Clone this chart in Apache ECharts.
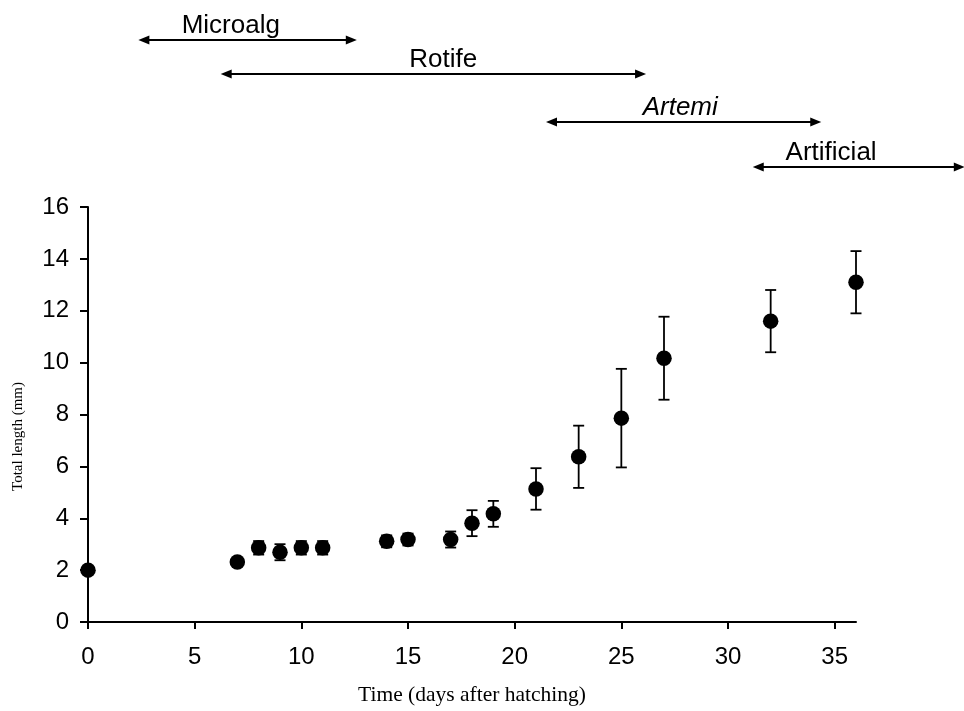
<!DOCTYPE html>
<html>
<head>
<meta charset="utf-8">
<script src="https://cdn.jsdelivr.net/npm/echarts@6/dist/echarts.min.js"></script>
<style>
html,body{margin:0;padding:0;background:#fff;}
#main{width:964px;height:711px;}
</style>
</head>
<body>
<div id="main"></div>
<script>
// growth data: day after hatching, mean total length, +/- error
var days = [0, 7, 8, 9, 10, 11, 14, 15, 17, 18, 19, 21, 23, 25, 27, 32, 36];
var lengthMean = [2.0, 2.31, 2.86, 2.69, 2.86, 2.86, 3.11, 3.18, 3.18, 3.81, 4.17, 5.13, 6.37, 7.86, 10.17, 11.6, 13.1];
var lengthErr = [0.05, 0.08, 0.26, 0.31, 0.26, 0.26, 0.23, 0.23, 0.31, 0.5, 0.5, 0.8, 1.2, 1.9, 1.6, 1.2, 1.2];

// feeding periods (days)
var feedNames = ['Microalg', 'Rotife', 'Artemi', 'Artificial'];
var feedStart = [2.36, 6.22, 21.47, 31.16];
var feedEnd = [12.6, 26.16, 34.37, 41.1];
var feedLabelAt = [4.39, 15.06, 26.0, 32.7];

var yTicks = [0, 2, 4, 6, 8, 10, 12, 14, 16];
var xTicks = [0, 5, 10, 15, 20, 25, 30, 35];

// pixel rows of the feeding arrows above the plot
var feedRowY = [40, 74, 122, 167];

var myChart = echarts.init(document.getElementById('main'));

var points = [];
var bars = [];
for (var i = 0; i < days.length; i++) {
	points.push([days[i], lengthMean[i]]);
	bars.push([days[i], lengthMean[i] - lengthErr[i], lengthMean[i] + lengthErr[i]]);
}
var feeds = [];
for (var j = 0; j < feedNames.length; j++) {
	feeds.push([feedStart[j], feedEnd[j], feedLabelAt[j], j]);
}

function renderBar(params, api) {
	var top = api.coord([api.value(0), api.value(2)]);
	var bot = api.coord([api.value(0), api.value(1)]);
	var w = 5.5;
	var st = {stroke: '#000', lineWidth: 1.8};
	return {
		type: 'group',
		children: [
			{type: 'line', shape: {x1: top[0], y1: top[1], x2: bot[0], y2: bot[1]}, style: st},
			{type: 'line', shape: {x1: top[0] - w, y1: top[1], x2: top[0] + w, y2: top[1]}, style: st},
			{type: 'line', shape: {x1: bot[0] - w, y1: bot[1], x2: bot[0] + w, y2: bot[1]}, style: st}
		]
	};
}

function renderFeed(params, api) {
	var idx = api.value(3);
	var y = feedRowY[idx];
	var x1 = api.coord([api.value(0), 0])[0];
	var x2 = api.coord([api.value(1), 0])[0];
	var xl = api.coord([api.value(2), 0])[0];
	var hl = 11, hh = 4.5;
	return {
		type: 'group',
		children: [
			{type: 'line', shape: {x1: x1 + 4, y1: y, x2: x2 - 4, y2: y}, style: {stroke: '#000', lineWidth: 2}},
			{type: 'polygon', shape: {points: [[x1, y], [x1 + hl, y - hh], [x1 + hl, y + hh]]}, style: {fill: '#000'}},
			{type: 'polygon', shape: {points: [[x2, y], [x2 - hl, y - hh], [x2 - hl, y + hh]]}, style: {fill: '#000'}},
			{type: 'text', style: {
				text: feedNames[idx], x: xl, y: y - 1,
				font: (feedNames[idx] == 'Artemi' ? 'italic ' : '') + '26px "Liberation Sans", Arial, sans-serif',
				fill: '#000', textAlign: 'left', textVerticalAlign: 'bottom'
			}}
		]
	};
}

var options = {
	animation: false,
	backgroundColor: '#fff',
	grid: {left: 88, right: 108, top: 207, bottom: 88, containLabel: false},
	xAxis: {
		type: 'value', min: 0, max: 36, interval: 5,
		name: 'Time (days after hatching)', nameLocation: 'middle', nameGap: 62,
		nameTextStyle: {fontFamily: '"Liberation Serif", "Times New Roman", serif', fontSize: 21.5, color: '#000'},
		axisLine: {show: true, lineStyle: {color: '#000', width: 2}},
		axisTick: {show: true, length: 7, lineStyle: {color: '#000', width: 2}},
		axisLabel: {
			margin: 23, color: '#000', fontSize: 24, fontFamily: '"Liberation Sans", Arial, sans-serif',
			showMaxLabel: false,
			formatter: function (v) { return xTicks.indexOf(v) >= 0 ? String(v) : ''; }
		},
		splitLine: {show: false}
	},
	yAxis: {
		type: 'value', min: 0, max: 16, interval: 2,
		name: 'Total length (mm)', nameLocation: 'middle', nameGap: 62, nameRotate: 90,
		nameTextStyle: {fontFamily: '"Liberation Serif", "Times New Roman", serif', fontSize: 15, color: '#000', padding: [0, 44, 0, 0]},
		axisLine: {show: true, lineStyle: {color: '#000', width: 2}},
		axisTick: {show: true, length: 8, lineStyle: {color: '#000', width: 2}},
		axisLabel: {
			margin: 19, color: '#000', fontSize: 24, fontFamily: '"Liberation Sans", Arial, sans-serif',
			formatter: function (v) { return yTicks.indexOf(v) >= 0 ? String(v) : ''; }
		},
		splitLine: {show: false}
	},
	series: [
		{
			type: 'custom', name: 'err', renderItem: renderBar, data: bars,
			encode: {x: 0, y: [1, 2]}, z: 2, silent: true
		},
		{
			type: 'scatter', name: 'mean', data: points,
			symbol: 'circle', symbolSize: 15.5,
			itemStyle: {color: '#000', opacity: 1}, z: 3
		},
		{
			type: 'custom', name: 'feed', renderItem: renderFeed, data: feeds,
			encode: {x: [0, 1, 2], y: 3}, clip: false, z: 4, silent: true
		}
	]
};
myChart.setOption(options);
</script>
</body>
</html>
